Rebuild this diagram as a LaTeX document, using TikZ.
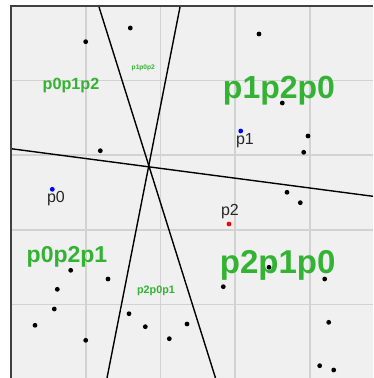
\documentclass[tikz,border=0pt]{standalone}
\usepackage{fontspec}
\setmainfont{Liberation Sans}
\definecolor{bgc}{HTML}{F0F0F0}
\definecolor{gridc}{HTML}{D2D2D2}
\definecolor{framec}{HTML}{404040}
\definecolor{regc}{HTML}{33B233}
\tikzset{
  dot/.style={circle,fill=black,inner sep=0pt,minimum size=4.8pt},
  bdot/.style={dot,fill=blue},
  rdot/.style={dot,fill=red},
  plabel/.style={inner sep=0pt,font=\fontsize{16}{16}\selectfont,text=black!85},
  region/.style={inner sep=0pt,text=regc,font=\bfseries\fontsize{#1}{#1}\selectfont},
  splitline/.style={black,line width=1.4pt},
}
\begin{document}
\begin{tikzpicture}[x=1pt,y=-1pt]
\useasboundingbox (0,0) rectangle (373,378);
\fill[white] (0,0) rectangle (373,378);
\fill[bgc] (11,6) rectangle (373,378);
\begin{scope}
\clip (11,6) rectangle (373,378);
\foreach \gx in {86,160.6,235.2,309.8} \draw[gridc,line width=1.6pt] (\gx,6) -- (\gx,378);
\foreach \gy in {80.3,155,229.7,304.4} \draw[gridc,line width=1.6pt] (11,\gy) -- (373,\gy);
\coordinate (a1) at (98.7,6);
\coordinate (a2) at (215.5,378);
\coordinate (b1) at (180.2,6);
\coordinate (b2) at (107,378);
\coordinate (c1) at (11,148.7);
\coordinate (c2) at (373,196.3);
\draw[splitline] (a1) -- (a2);
\draw[splitline] (b1) -- (b2);
\draw[splitline] (c1) -- (c2);
\end{scope}
\draw[framec,line width=1.5pt] (11,378) -- (11,6) -- (373,6);
% region labels
\node[region=32] (r1) at (279,90.3) {p1p2p0};
\node[region=33] (r2) at (277.7,265) {p2p1p0};
\node[region=23] (r3) at (67,257.3) {p0p2p1};
\node[region=16.2] (r4) at (71,85.3) {p0p1p2};
\node[region=10.8] (r5) at (156,291) {p2p0p1};
\node[region=6.6] (r6) at (143.3,68.3) {p1p0p2};
% black points
\node[dot] (q1) at (85.7,41.7) {};
\node[dot] (q2) at (130.3,28) {};
\node[dot] (q3) at (100.3,150.7) {};
\node[dot] (q4) at (259,34) {};
\node[dot] (q5) at (282.3,103) {};
\node[dot] (q6) at (308,136) {};
\node[dot] (q7) at (303.7,152.3) {};
\node[dot] (q8) at (70.7,270.3) {};
\node[dot] (q9) at (108,279) {};
\node[dot] (q10) at (57.3,289.3) {};
\node[dot] (q11) at (54.3,309) {};
\node[dot] (q12) at (35,325.3) {};
\node[dot] (q13) at (85.7,340.3) {};
\node[dot] (q14) at (129,313.7) {};
\node[dot] (q15) at (145.3,326.7) {};
\node[dot] (q16) at (169.3,338.7) {};
\node[dot] (q17) at (187,324) {};
\node[dot] (q18) at (287,192.3) {};
\node[dot] (q19) at (300.3,202.7) {};
\node[dot] (q20) at (223.3,286.7) {};
\node[dot] (q21) at (269,267.3) {};
\node[dot] (q22) at (324.7,279) {};
\node[dot] (q23) at (328.7,322.3) {};
\node[dot] (q24) at (319.7,365.7) {};
\node[dot] (q25) at (333.7,370) {};
% special points
\node[bdot] (p0) at (52.3,189.3) {};
\node[bdot] (p1) at (240.7,131) {};
\node[rdot] (p2) at (229,224) {};
\node[plabel] (l0) at (56,198.5) {p0};
\node[plabel] (l1) at (245,140.7) {p1};
\node[plabel] (l2) at (230,211.7) {p2};
\end{tikzpicture}
\end{document}
